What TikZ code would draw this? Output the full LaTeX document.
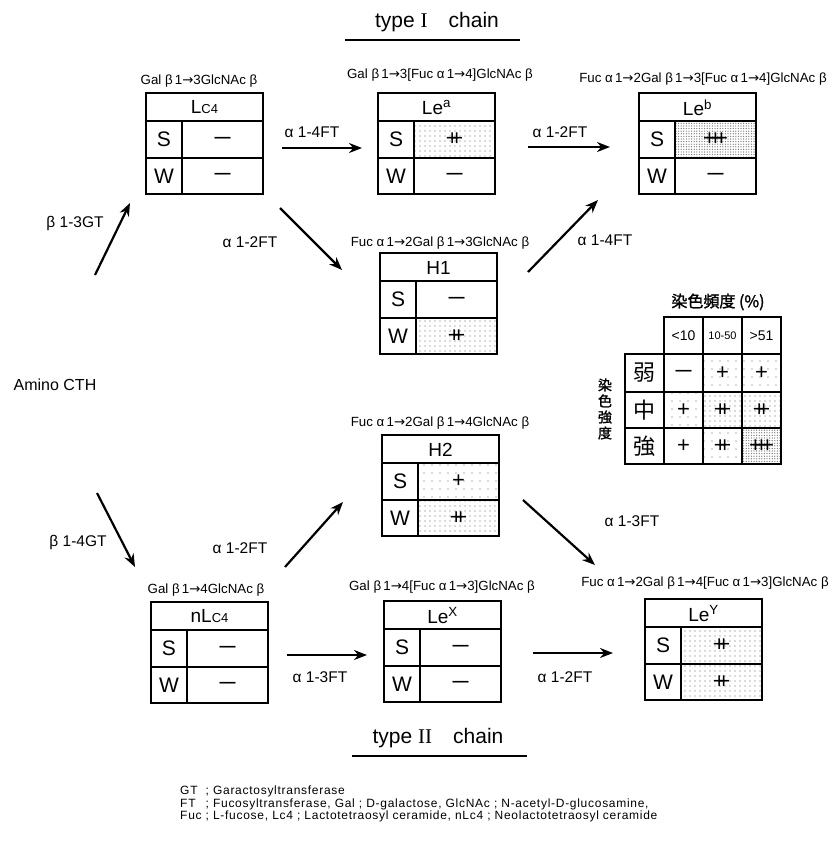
\documentclass[tikz,border=0pt]{standalone}
\usepackage{fontspec}
\setmainfont{Liberation Sans}
\newfontfamily\cjk{Noto Sans CJK JP}
\newfontfamily\cjkb[FakeBold=1.5]{Noto Sans CJK JP}
\newfontfamily\dvs{DejaVu Sans}
\newfontfamily\rmser{Liberation Serif}
\newfontfamily\fnfont[LetterSpace=6]{Liberation Sans}
\usetikzlibrary{arrows.meta,patterns.meta}
\tikzset{
  boxline/.style={line width=1.7pt},
  hdr/.style={font=\fontsize{19}{19}\selectfont, inner sep=0pt},
  swl/.style={font=\fontsize{21}{21}\selectfont, inner sep=0pt},
  val/.style={font=\fontsize{22}{22}\selectfont, inner sep=0pt},
  sublab/.style={font=\fontsize{13.3}{13.3}\selectfont, inner sep=0pt},
  enz/.style={font=\fontsize{15.5}{15.5}\selectfont, inner sep=0pt},
  conv/.style={line width=2.2pt, -{Stealth[length=13pt,width=10pt]}},
  nofill/.style={},
  dotsA/.style={pattern={Dots[radius=0.6pt,distance=8pt]}, pattern color=black!60},
  dotsB/.style={pattern={Dots[radius=0.6pt,distance=5pt]}, pattern color=black!60},
  dotsC/.style={pattern={Dots[radius=0.65pt,distance=2.6pt]}, pattern color=black!55},
  titl/.style={font=\fontsize{21}{21}\selectfont, inner sep=0pt},
  cjkl/.style={font=\cjk\fontsize{22}{22}\selectfont, inner sep=0pt},
}
\newcommand\ar{{\dvs →}}
\newcommand\vN{{\bfseries\fontsize{16}{16}\selectfont —}}
\newcommand\vA{+}
\newcommand\vB{+\kern-.38em+}
\newcommand\vC{+\kern-.31em+\kern-.31em+}
% name, x, y, header, S value, W value, S fill, W fill
\newcommand\gbox[8]{%
  \begin{scope}[shift={(#2,#3)}]
    \path[#7] (36,28) rectangle (117,65);
    \path[#8] (36,65) rectangle (117,101);
    \draw[boxline] (0,0) rectangle (117,101);
    \draw[boxline] (0,28) -- (117,28) (0,65) -- (117,65) (36,28) -- (36,101);
    \node[hdr] (#1-h) at (58.5,14.5) {#4};
    \node[swl] (#1-s) at (18,46.5) {S};
    \node[swl] (#1-w) at (18,83) {W};
    \node[val] (#1-sv) at (76.5,46.5) {#5};
    \node[val] (#1-wv) at (76.5,83) {#6};
  \end{scope}}
\begin{document}
\begin{tikzpicture}[x=1pt,y=-1pt]
\useasboundingbox[fill=white] (0,0) rectangle (836,841);

% titles
\node[titl] (t1) at (437,22) {type {\rmser I}\quad chain};
\draw[line width=1.6pt] (345,40) -- (520,40);
\node[titl] (t2) at (438,738) {type {\rmser II}\quad chain};
\draw[line width=1.6pt] (352,756) -- (527,756);

% boxes
\gbox{lc4}{146}{93}{L{\fontsize{13}{13}\selectfont C4}}{\vN}{\vN}{nofill}{nofill}
\gbox{lea}{378}{93}{Le\textsuperscript{a}}{\vB}{\vN}{dotsB}{nofill}
\gbox{leb}{639}{93}{Le\textsuperscript{b}}{\vC}{\vN}{dotsC}{nofill}
\gbox{h1}{380}{253}{H1}{\vN}{\vB}{nofill}{dotsB}
\gbox{h2}{382}{435}{H2}{\vA}{\vB}{dotsA}{dotsB}
\gbox{nlc4}{151}{602}{nL{\fontsize{13}{13}\selectfont C4}}{\vN}{\vN}{nofill}{nofill}
\gbox{lex}{384}{601}{Le\textsuperscript{X}}{\vN}{\vN}{nofill}{nofill}
\gbox{ley}{645}{599}{Le\textsuperscript{Y}}{\vB}{\vB}{dotsB}{dotsB}

% structure labels
\node[sublab] (s-lc4) at (199,81) {Gal β\,1\ar3GlcNAc β};
\node[sublab] (s-lea) at (440,75) {Gal β\,1\ar3[Fuc α\,1\ar4]GlcNAc β};
\node[sublab] (s-leb) at (703,79) {Fuc α\,1\ar2Gal β\,1\ar3[Fuc α\,1\ar4]GlcNAc β};
\node[sublab] (s-h1) at (440,243) {Fuc α\,1\ar2Gal β\,1\ar3GlcNAc β};
\node[sublab] (s-h2) at (440,423) {Fuc α\,1\ar2Gal β\,1\ar4GlcNAc β};
\node[sublab] (s-nlc4) at (206,590) {Gal β\,1\ar4GlcNAc β};
\node[sublab] (s-lex) at (442,587) {Gal β\,1\ar4[Fuc α\,1\ar3]GlcNAc β};
\node[sublab] (s-ley) at (705,583) {Fuc α\,1\ar2Gal β\,1\ar4[Fuc α\,1\ar3]GlcNAc β};

% start
\node[font=\fontsize{16}{16}\selectfont, inner sep=0pt] (cth) at (55,385) {Amino CTH};

% arrows
\coordinate (a1s) at (95,275);  \coordinate (a1e) at (130,203);
\coordinate (a2s) at (282,148); \coordinate (a2e) at (362,148);
\coordinate (a3s) at (280,208); \coordinate (a3e) at (342,270);
\coordinate (a4s) at (528,147); \coordinate (a4e) at (610,147);
\coordinate (a5s) at (528,272); \coordinate (a5e) at (598,200);
\coordinate (a6s) at (97,493);  \coordinate (a6e) at (135,567);
\coordinate (a7s) at (285,567); \coordinate (a7e) at (343,502);
\coordinate (a8s) at (523,500); \coordinate (a8e) at (595,565);
\coordinate (a9s) at (287,655); \coordinate (a9e) at (367,655);
\coordinate (a10s) at (533,653); \coordinate (a10e) at (613,653);
\draw[conv] (a1s) -- (a1e);
\draw[conv] (a2s) -- (a2e);
\draw[conv] (a3s) -- (a3e);
\draw[conv] (a4s) -- (a4e);
\draw[conv] (a5s) -- (a5e);
\draw[conv] (a6s) -- (a6e);
\draw[conv] (a7s) -- (a7e);
\draw[conv] (a8s) -- (a8e);
\draw[conv] (a9s) -- (a9e);
\draw[conv] (a10s) -- (a10e);

\node[enz] (e1) at (75,223) {β 1-3GT};
\node[enz] (e2) at (312,132) {α 1-4FT};
\node[enz] (e3) at (250,242) {α 1-2FT};
\node[enz] (e4) at (560,132) {α 1-2FT};
\node[enz] (e5) at (605,240) {α 1-4FT};
\node[enz] (e6) at (78,542) {β 1-4GT};
\node[enz] (e7) at (240,548) {α 1-2FT};
\node[enz] (e8) at (632,521) {α 1-3FT};
\node[enz] (e9) at (320,677) {α 1-3FT};
\node[enz] (e10) at (565,677) {α 1-2FT};

% legend table
\node[font=\cjkb\fontsize{16}{16}\selectfont, inner sep=0pt] (lg-t) at (718,302) {染色頻度 (\%)};
\path[dotsA] (703,354) rectangle (742,392);
\path[dotsA] (742,354) rectangle (781,392);
\path[dotsA] (664,392) rectangle (703,428);
\path[dotsB] (703,392) rectangle (742,428);
\path[dotsB] (742,392) rectangle (781,428);
\path[dotsA] (703,428) rectangle (742,464);
\path[dotsC] (742,428) rectangle (781,464);
\draw[boxline] (664,317) rectangle (781,464);
\draw[boxline] (625,354) rectangle (664,464);
\draw[boxline] (664,354) -- (781,354) (625,392) -- (781,392) (625,428) -- (781,428)
  (703,317) -- (703,464) (742,317) -- (742,464);
\node[font=\fontsize{14}{14}\selectfont, inner sep=0pt] (lg-c1) at (683.5,335.5) {<10};
\node[font=\fontsize{11}{11}\selectfont, inner sep=0pt] (lg-c2) at (722.5,335.5) {10-50};
\node[font=\fontsize{14}{14}\selectfont, inner sep=0pt] (lg-c3) at (761.5,335.5) {>51};
\node[cjkl] (lg-r1) at (644.5,373) {弱};
\node[cjkl] (lg-r2) at (644.5,410) {中};
\node[cjkl] (lg-r3) at (644.5,446) {強};
\node[font=\cjkb\fontsize{14}{16}\selectfont, inner sep=0pt, align=center] (lg-v) at (605,409) {染\\色\\強\\度};
\node[val] (lg-11) at (683.5,373) {\vN};
\node[val] (lg-12) at (722.5,373) {\vA};
\node[val] (lg-13) at (761.5,373) {\vA};
\node[val] (lg-21) at (683.5,410) {\vA};
\node[val] (lg-22) at (722.5,410) {\vB};
\node[val] (lg-23) at (761.5,410) {\vB};
\node[val] (lg-31) at (683.5,446) {\vA};
\node[val] (lg-32) at (722.5,446) {\vB};
\node[val] (lg-33) at (761.5,446) {\vC};

% footnote
\node[anchor=north west, inner sep=0pt, font=\fnfont\fontsize{12}{12.5}\selectfont] (fn) at (180,786)
  {\begin{tabular}{@{}l@{\ }l@{}}
   GT & ; Garactosyltransferase\\
   FT & ; Fucosyltransferase, Gal ; D-galactose, GlcNAc ; N-acetyl-D-glucosamine,\\
   Fuc & ; L-fucose, Lc4 ; Lactotetraosyl ceramide, nLc4 ; Neolactotetraosyl ceramide
   \end{tabular}};
\end{tikzpicture}
\end{document}
